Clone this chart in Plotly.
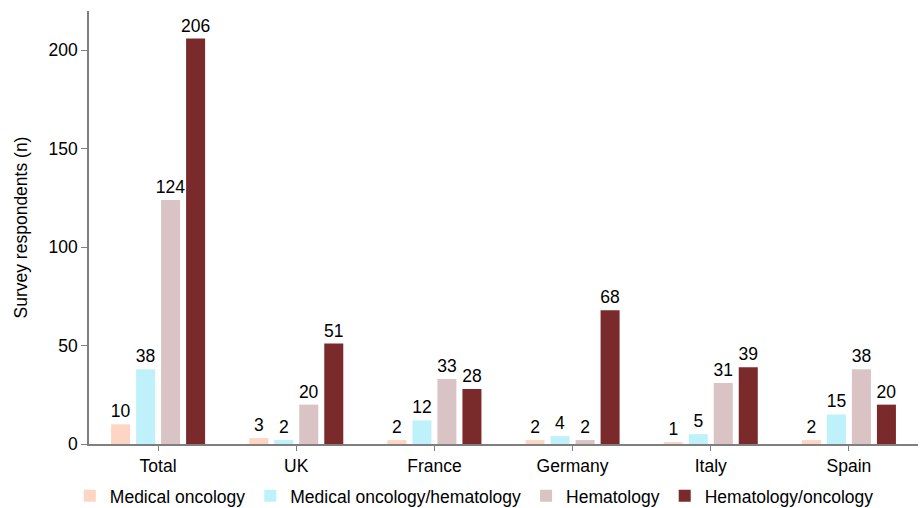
import plotly.graph_objects as go

# Survey respondents by specialty, per country
countries = ["Total", "UK", "France", "Germany", "Italy", "Spain"]
medical_oncology = [10, 3, 2, 2, 1, 2]
medical_onc_hem = [38, 2, 12, 4, 5, 15]
hematology = [124, 20, 33, 2, 31, 38]
hem_oncology = [206, 51, 28, 68, 39, 20]

series = [
    ("Medical oncology", medical_oncology, "#FCD6C2"),
    ("Medical oncology/hematology", medical_onc_hem, "#BFF1FA"),
    ("Hematology", hematology, "#D9C3C4"),
    ("Hematology/oncology", hem_oncology, "#7A2A2B"),
]

font_family = "Liberation Sans, Arial, sans-serif"
fs = 17.5

fig = go.Figure()
for name, vals, color in series:
    fig.add_trace(go.Bar(
        name=name,
        x=countries,
        y=vals,
        marker=dict(color=color, line=dict(width=0)),
        text=[str(v) for v in vals],
        textposition="outside",
        constraintext="none",
        textfont=dict(size=fs, color="#000000", family=font_family),
        cliponaxis=False,
    ))

fig.update_layout(
    width=921,
    height=508,
    margin=dict(l=89, r=3, t=11, b=64, autoexpand=False),
    paper_bgcolor="white",
    plot_bgcolor="white",
    barmode="group",
    bargap=0.276,
    bargroupgap=0.24,
    font=dict(family=font_family, size=fs, color="#000000"),
    showlegend=True,
    legend=dict(
        orientation="h",
        x=0.515,
        xanchor="center",
        xref="container",
        y=0.024,
        yref="container",
        yanchor="middle",
        font=dict(size=fs, color="#000000"),
        traceorder="normal",
        itemwidth=30,
    ),
)

fig.update_xaxes(
    showline=True,
    linecolor="#7f7f7f",
    linewidth=1.5,
    ticks="outside",
    ticklen=5,
    tickcolor="#7f7f7f",
    showgrid=False,
    tickfont=dict(size=fs),
)
fig.update_yaxes(
    range=[0, 220],
    tickvals=[0, 50, 100, 150, 200],
    showline=True,
    linecolor="#7f7f7f",
    linewidth=1.5,
    ticks="outside",
    ticklen=6,
    tickcolor="#7f7f7f",
    showgrid=False,
    zeroline=False,
    tickfont=dict(size=fs),
    title=dict(text="Survey respondents (n)", font=dict(size=fs), standoff=16),
)

fig.write_html("out.html")
